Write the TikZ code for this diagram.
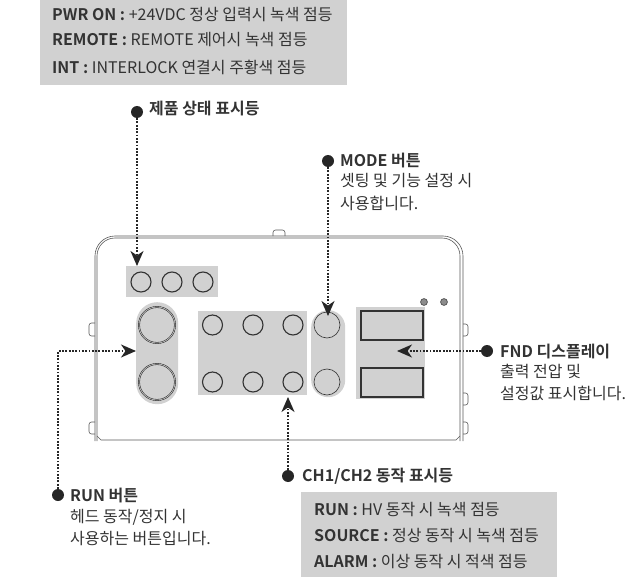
\documentclass[tikz,border=0pt]{standalone}
\usepackage{fontspec}
\setmainfont{Noto Sans CJK KR}[BoldFont={Noto Sans CJK KR Bold}]
\usetikzlibrary{arrows.meta}
\definecolor{panelgray}{gray}{0.82}
\definecolor{inkgray}{gray}{0.2}
\tikzset{
    graybox/.style={fill=panelgray, inner sep=0pt, anchor=north west},
    pill/.style={fill=panelgray, rounded corners=#1, inner sep=0pt, anchor=north west},
    ledring/.style={circle, draw=inkgray, line width=1.1pt, inner sep=0pt, minimum size=20pt},
    bigring/.style={circle, draw=inkgray, double=panelgray, double distance=0.6pt, line width=0.6pt, inner sep=0pt, minimum size=36pt},
    modering/.style={circle, draw=inkgray, line width=0.6pt, inner sep=0pt, minimum size=26pt},
    fndwin/.style={rectangle, draw=inkgray, line width=1.6pt, inner sep=0pt, anchor=north west, minimum width=62pt, minimum height=29pt},
    bullet/.style={circle, fill=black!85, inner sep=0pt, minimum size=12pt},
    lead/.style={line width=1.8pt, black!85, dash pattern=on 1.8pt off 1.5pt, -{Stealth[length=15pt,width=13pt,inset=4.5pt]}},
    panelline/.style={draw=black!65, line width=0.6pt},
    tabline/.style={panelline, rounded corners=2.5pt},
    txt/.style={anchor=base west, inner sep=0pt, text=inkgray, font=\fontsize{16pt}{18pt}\selectfont},
}
\begin{document}
\begin{tikzpicture}[x=1pt,y=-1pt]
        \useasboundingbox (0,0) rectangle (627,583);

        % housing
        \draw[tabline] (95,323) -- (89,323) -- (89,336) -- (95,336);
        \draw[tabline] (95,422) -- (89,422) -- (89,434) -- (95,434);
        \draw[tabline] (463,324) -- (468,324) -- (468,336) -- (463,336);
        \draw[tabline] (463,393) -- (468,393) -- (468,405) -- (463,405);
        \draw[tabline] (463,422) -- (468,422) -- (468,434) -- (463,434);
        \draw[tabline] (273,236) -- (273,230) -- (285,230) -- (285,236);
        \draw[panelline, rounded corners=20pt] (95,441) -- (95,236) -- (463,236) -- (463,441);
        \draw[panelline, rounded corners=18pt] (97,441) -- (97,238) -- (460,238) -- (460,441);
        \draw[panelline] (97,436) -- (101,440) -- (456,440) -- (460,436);

        % control groups
        \node[graybox, minimum width=92pt, minimum height=31pt] (ledbox) at (126,266) {};
        \node[pill=21pt, minimum width=42pt, minimum height=102pt] (runbox) at (136,302) {};
        \node[graybox, minimum width=109pt, minimum height=84pt] (chbox) at (198,311) {};
        \node[pill=17pt, minimum width=34pt, minimum height=87pt] (modebox) at (311,310) {};
        \node[graybox, minimum width=69pt, minimum height=92pt] (fndbox) at (356,307) {};

        \foreach \n/\x in {a/141,b/172,c/203}
            \node[ledring] (led\n) at (\x,282) {};
        \node[bigring] (runa) at (157,325) {};
        \node[bigring] (runb) at (157,382) {};
        \foreach \n/\x in {a/212.5,b/253,c/293} {
            \node[ledring] (ch\n) at (\x,325) {};
            \node[ledring] (ch\n low) at (\x,382) {};
        }
        \node[modering] (modea) at (327,325) {};
        \node[modering] (modeb) at (327,382) {};
        \node[fndwin] (fnda) at (360,310) {};
        \node[fndwin] (fndb) at (360,367) {};
        \filldraw[fill=black!45, draw=black!65, line width=0.8pt] (424,302) circle (3.4);
        \filldraw[fill=black!45, draw=black!65, line width=0.8pt] (444,302) circle (3.4);

        % leaders
        \node[bullet] (leddot) at (137,112) {};
        \node[bullet] (modedot) at (328,161) {};
        \node[bullet] (fnddot) at (487,351) {};
        \node[bullet] (chdot) at (288,476) {};
        \node[bullet] (rundot) at (58,495) {};
        \coordinate (ledend) at (137,266);
        \coordinate (modeend) at (328,316);
        \coordinate (fndend) at (397,351);
        \coordinate (chend) at (288,397);
        \coordinate (runcorner) at (58,351);
        \coordinate (runend) at (136,351);
        \draw[lead] (leddot) -- (ledend);
        \draw[lead] (modedot) -- (modeend);
        \draw[lead] (fnddot) -- (fndend);
        \draw[lead] (chdot) -- (chend);
        \draw[lead] (rundot) -- (runcorner) -- (runend);

        % callout texts
        \node[graybox, minimum width=307pt, minimum height=85pt] (topnote) at (40,0) {};
        \node[graybox, minimum width=256pt, minimum height=85pt] (botnote) at (301,492) {};

        \node[txt] (nota) at (52,21) {\textbf{PWR ON :} +24VDC 정상 입력시 녹색 점등};
        \node[txt] (notb) at (52,46) {\textbf{REMOTE :} REMOTE 제어시 녹색 점등};
        \node[txt] (notc) at (52,74) {\textbf{INT :} INTERLOCK 연결시 주황색 점등};

        \node[txt] (ledlabel) at (149,115) {\textbf{제품 상태 표시등}};
        \node[txt] (modelabel) at (340,167) {\textbf{MODE 버튼}};
        \node[txt] (modelinea) at (340,187) {셋팅 및 기능 설정 시};
        \node[txt] (modelineb) at (340,210) {사용합니다.};
        \node[txt] (fndlabel) at (500,357) {\textbf{FND 디스플레이}};
        \node[txt] (fndlinea) at (500,377) {출력 전압 및};
        \node[txt] (fndlineb) at (500,399) {설정값 표시합니다.};
        \node[txt] (chlabel) at (302,481) {\textbf{CH1/CH2 동작 표시등}};
        \node[txt] (runlabel) at (70,501) {\textbf{RUN 버튼}};
        \node[txt] (runlinea) at (70,522) {헤드 동작/정지 시};
        \node[txt] (runlineb) at (70,544) {사용하는 버튼입니다.};

        \node[txt] (nold) at (314,515) {\textbf{RUN :} HV 동작 시 녹색 점등};
        \node[txt] (nole) at (314,541) {\textbf{SOURCE :} 정상 동작 시 녹색 점등};
        \node[txt] (nolf) at (314,567) {\textbf{ALARM :} 이상 동작 시 적색 점등};
\end{tikzpicture}
\end{document}
